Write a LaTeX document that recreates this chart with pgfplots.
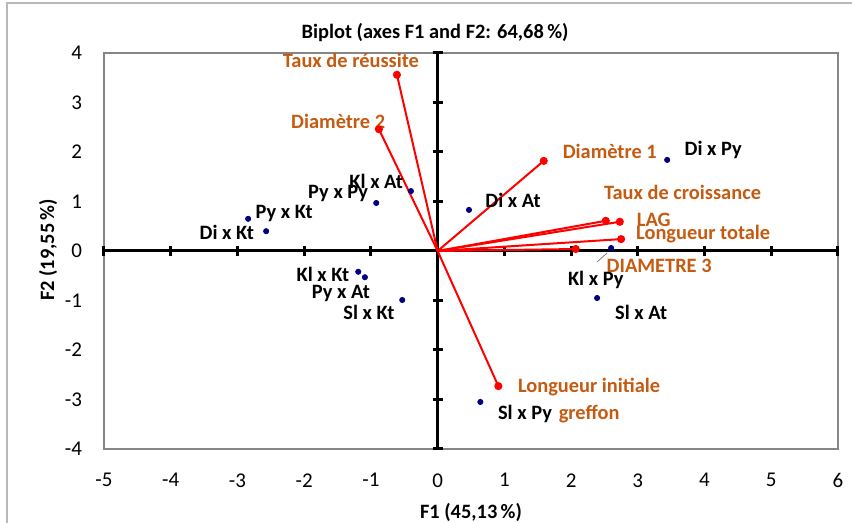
\documentclass[border=0pt]{standalone}
\usepackage{fontspec}
\setmainfont{Carlito}
\usepackage{pgfplots}
\pgfplotsset{compat=1.18}
\definecolor{varcol}{RGB}{197,90,17}
\definecolor{obscol}{RGB}{0,0,128}
\definecolor{framegray}{RGB}{134,134,134}
\newcommand{\lbl}{\bfseries\fontsize{10.2}{12}\selectfont}
\begin{document}
\begin{tikzpicture}[x=1pt,y=1pt]
\useasboundingbox (-52,-37) rectangle (374,224.5);
\draw[gray!55, line width=0.6pt] (-48.5,-40) -- (-48.5,223) -- (380,223);
% frame axis with tick labels
\begin{axis}[at={(0,0)}, anchor=south west, scale only axis,
  width=367pt, height=198pt,
  xmin=-5, xmax=6, ymin=-4, ymax=4,
  axis line style={framegray, line width=1pt},
  xtick={-5,-4,...,6}, ytick={-4,-3,...,4},
  major tick length=0pt,
  tick label style={font=\fontsize{10.5}{12}\selectfont},
  /pgf/number format/assume math mode=true,
  xticklabel style={yshift=-8.7pt},
  yticklabel style={xshift=-7.5pt},
]
\end{axis}
% middle axes
\begin{axis}[at={(0,0)}, anchor=south west, scale only axis,
  width=367pt, height=198pt,
  xmin=-5, xmax=6, ymin=-4, ymax=4,
  axis lines=middle,
  axis line style={-, black, line width=1.5pt},
  xtick={-5,-4,...,6}, ytick={-4,-3,...,4},
  xticklabels={}, yticklabels={},
  tick align=center, major tick length=5pt,
  tick style={black, line width=1.5pt},
  hide obscured x ticks=false, hide obscured y ticks=false,
]
\end{axis}
% data
\begin{axis}[at={(0,0)}, anchor=south west, scale only axis,
  width=367pt, height=198pt,
  xmin=-5, xmax=6, ymin=-4, ymax=4,
  hide axis, clip=false,
]
% variables (vectors)
\pgfplotsset{vec/.style={red, line width=1pt, mark=*, mark size=1.5pt, mark indices={2}, mark options={fill=red, draw=red}}}
\addplot[vec] coordinates {(0,0) (-0.61,3.56)};
\addplot[vec] coordinates {(0,0) (-0.88,2.46)};
\addplot[vec] coordinates {(0,0) (1.59,1.82)};
\addplot[vec] coordinates {(0,0) (2.52,0.61)};
\addplot[vec] coordinates {(0,0) (2.73,0.59)};
\addplot[vec] coordinates {(0,0) (2.75,0.24)};
\addplot[vec] coordinates {(0,0) (2.07,0.04)};
\addplot[vec] coordinates {(0,0) (0.91,-2.73)};
% leader line
\addplot[gray, line width=0.4pt] coordinates {(2.39,-0.22) (2.54,-0.04)};
% observations
\addplot[only marks, mark=*, mark size=1.3pt, obscol] coordinates {
(3.44,1.84) (0.47,0.83) (2.60,0.06) (-0.40,1.21) (-0.92,0.97) (-2.84,0.65)
(-2.57,0.40) (-1.19,-0.42) (-1.09,-0.53) (-0.53,-0.99) (2.39,-0.95) (0.64,-3.05)};
% variable labels
\begin{scope}[every node/.style={font=\lbl, text=varcol, inner sep=0pt}]
\node at (axis cs:-1.30,3.84) {Taux de réussite};
\node at (axis cs:-1.49,2.61) {Diamètre 2};
\node at (axis cs:2.58,2.02) {Diamètre 1};
\node at (axis cs:3.67,1.19) {Taux de croissance};
\node at (axis cs:3.24,0.63) {LAG};
\node at (axis cs:3.98,0.34) {Longueur totale};
\node at (axis cs:3.32,-0.30) {DIAMETRE 3};
\node at (axis cs:2.27,-2.75) {Longueur initiale};
\node at (axis cs:2.27,-3.29) {greffon};
\end{scope}
% observation labels
\begin{scope}[every node/.style={font=\lbl, text=black, inner sep=0pt}]
\node at (axis cs:4.13,2.04) {Di x Py};
\node at (axis cs:1.13,1.03) {Di x At};
\node at (axis cs:2.37,-0.59) {Kl x Py};
\node at (axis cs:-0.92,1.41) {Kl x At};
\node at (axis cs:-1.49,1.17) {Py x Py};
\node at (axis cs:-2.30,0.75) {Py x Kt};
\node at (axis cs:-3.16,0.38) {Di x Kt};
\node at (axis cs:-1.72,-0.48) {Kl x Kt};
\node at (axis cs:-1.45,-0.85) {Py x At};
\node at (axis cs:-1.03,-1.25) {Sl x Kt};
\node at (axis cs:3.05,-1.25) {Sl x At};
\node at (axis cs:1.31,-3.29) {Sl x Py};
\end{scope}
\end{axis}
% titles
\node[font=\lbl] at (165.5,208) {Biplot (axes F1 and F2: 64,68\,\%)};
\node[font=\lbl] at (183.5,-31.5) {F1 (45,13\,\%)};
\node[font=\lbl, rotate=90] at (-28,99.5) {F2 (19,55\,\%)};
\end{tikzpicture}
\end{document}
